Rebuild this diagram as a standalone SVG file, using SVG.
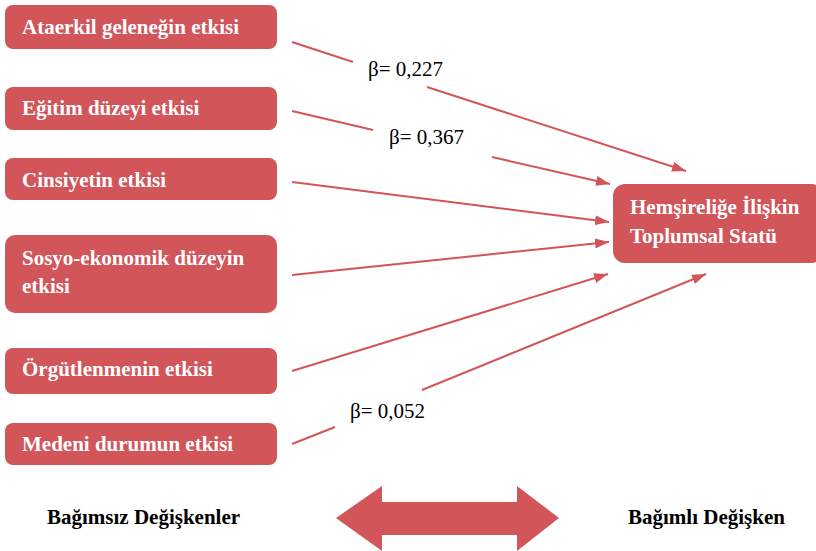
<svg xmlns="http://www.w3.org/2000/svg" width="816" height="551" viewBox="0 0 816 551">
<style>
.box{fill:#d2555a;}
.bt{font-family:'Liberation Serif','Times New Roman',serif;font-weight:bold;font-size:21px;fill:#ffffff;}
.lbl{font-family:'Liberation Serif','Times New Roman',serif;font-size:21px;fill:#000000;}
.foot{font-family:'Liberation Serif','Times New Roman',serif;font-weight:bold;font-size:21px;fill:#000000;}
.con{fill:none;stroke:#d2555a;stroke-width:2;}
</style>
<defs>
<marker id="ah" markerUnits="userSpaceOnUse" markerWidth="14" markerHeight="10" refX="14" refY="5" orient="auto" viewBox="0 0 14 10">
<path d="M0,0 L14,5 L0,10 z" fill="#d2555a"/>
</marker>
</defs>
<rect width="816" height="551" fill="#ffffff"/>
<g id="connectors">
<path class="con" d="M292,42 L353,62 M427,87 L686,171" marker-end="url(#ah)"/>
<path class="con" d="M292,111 L373,130 M492,157 L610,184" marker-end="url(#ah)"/>
<path class="con" d="M292,182 L609,222" marker-end="url(#ah)"/>
<path class="con" d="M292,275 L609,242" marker-end="url(#ah)"/>
<path class="con" d="M292,371 L608,274" marker-end="url(#ah)"/>
<path class="con" d="M292,444 L335,427 M422,390 L706,274" marker-end="url(#ah)"/>
<text class="lbl" x="368" y="76">β= 0,227</text>
<text class="lbl" x="389" y="144">β= 0,367</text>
<text class="lbl" x="350" y="418">β= 0,052</text>
</g>
<g id="n1"><rect class="box" x="5" y="5" width="272" height="44" rx="8"/><text class="bt" x="22" y="34">Ataerkil geleneğin etkisi</text></g>
<g id="n2"><rect class="box" x="5" y="87" width="272" height="43" rx="8"/><text class="bt" x="22" y="115">Eğitim düzeyi etkisi</text></g>
<g id="n3"><rect class="box" x="5" y="158" width="272" height="42" rx="8"/><text class="bt" x="22" y="187">Cinsiyetin etkisi</text></g>
<g id="n4"><rect class="box" x="5" y="235" width="272" height="78" rx="10"/><text class="bt" x="22" y="265">Sosyo-ekonomik düzeyin</text><text class="bt" x="22" y="293">etkisi</text></g>
<g id="n5"><rect class="box" x="5" y="348" width="272" height="46" rx="8"/><text class="bt" x="22" y="376">Örgütlenmenin etkisi</text></g>
<g id="n6"><rect class="box" x="5" y="423" width="272" height="42" rx="8"/><text class="bt" x="22" y="451">Medeni durumun etkisi</text></g>
<g id="target"><rect class="box" x="613" y="184" width="210" height="79" rx="12"/><text class="bt" x="630" y="214">Hemşireliğe İlişkin</text><text class="bt" x="630" y="243">Toplumsal Statü</text></g>
<g id="legend">
<polygon fill="#d2555a" points="336,518 382,486 382,502 517,502 517,486 559,518 517,551 517,535 382,535 382,551"/>
<text class="foot" x="47" y="524">Bağımsız Değişkenler</text>
<text class="foot" x="628" y="524">Bağımlı Değişken</text>
</g>
</svg>
